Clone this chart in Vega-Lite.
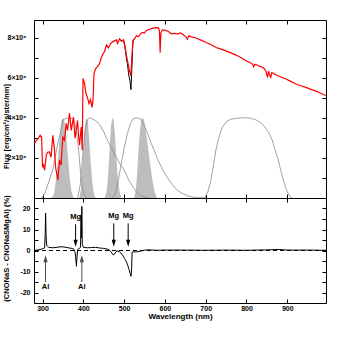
{
  "$schema": "https://vega.github.io/schema/vega-lite/v6.json",
  "padding": {"left": 1, "top": 19, "right": 5, "bottom": 5},
  "background": "white",
  "spacing": 0,
  "bounds": "flush",
  "config": {
    "view": {"stroke": "black", "strokeWidth": 1},
    "axis": {"domain": false, "grid": false, "tickColor": "black", "tickSize": -4, "tickWidth": 1,
      "labelFont": "Liberation Sans", "labelFontWeight": "bold", "labelFontSize": 7, "labelColor": "black",
      "titleFont": "Liberation Sans", "titleFontWeight": "bold", "titleFontSize": 7.5, "titleColor": "black"}
  },
  "datasets": {
    "spec": [
      {"wl":280,"flux":2730000,"s":"red"},{"wl":285,"flux":2880000,"s":"red"},{"wl":290,"flux":3000000,"s":"red"},{"wl":294,"flux":3130000,"s":"red"},{"wl":297.6,"flux":3030000,"s":"red"},{"wl":300,"flux":1540000,"s":"red"},{"wl":302.4,"flux":1640000,"s":"red"},{"wl":304.9,"flux":1390000,"s":"red"},{"wl":309,"flux":2130000,"s":"red"},{"wl":312.2,"flux":2280000,"s":"red"},{"wl":317.1,"flux":2300000,"s":"red"},{"wl":320.8,"flux":2030000,"s":"red"},{"wl":325.2,"flux":3130000,"s":"red"},{"wl":329.4,"flux":2380000,"s":"red"},{"wl":331.8,"flux":1550000,"s":"red"},{"wl":337.5,"flux":890000,"s":"red"},{"wl":341.6,"flux":1890000,"s":"red"},{"wl":345.3,"flux":1640000,"s":"red"},{"wl":349.7,"flux":3040000,"s":"red"},{"wl":353.9,"flux":2880000,"s":"red"},{"wl":358,"flux":3720000,"s":"red"},{"wl":361.2,"flux":3370000,"s":"red"},{"wl":366.1,"flux":4220000,"s":"red"},{"wl":370.3,"flux":3370000,"s":"red"},{"wl":373.5,"flux":3770000,"s":"red"},{"wl":375.9,"flux":4030000,"s":"red"},{"wl":379.6,"flux":2980000,"s":"red"},{"wl":382.5,"flux":3370000,"s":"red"},{"wl":385.7,"flux":3870000,"s":"red"},{"wl":388.2,"flux":3130000,"s":"red"},{"wl":390.6,"flux":2630000,"s":"red"},{"wl":394.8,"flux":3540000,"s":"red"},{"wl":397.3,"flux":2380000,"s":"red"},{"wl":399.2,"flux":5960000,"s":"red"},{"wl":402.9,"flux":5710000,"s":"red"},{"wl":406.5,"flux":5210000,"s":"red"},{"wl":410.2,"flux":5010000,"s":"red"},{"wl":413.9,"flux":4710000,"s":"red"},{"wl":417.6,"flux":4910000,"s":"red"},{"wl":421.2,"flux":4520000,"s":"red"},{"wl":423.7,"flux":4860000,"s":"red"},{"wl":426.1,"flux":6200000,"s":"red"},{"wl":429.8,"flux":6450000,"s":"red"},{"wl":434.7,"flux":6550000,"s":"red"},{"wl":439.6,"flux":6700000,"s":"red"},{"wl":443.3,"flux":6950000,"s":"red"},{"wl":446.9,"flux":7150000,"s":"red"},{"wl":451.8,"flux":7300000,"s":"red"},{"wl":456.7,"flux":7640000,"s":"red"},{"wl":461.6,"flux":7490000,"s":"red"},{"wl":466.5,"flux":7690000,"s":"red"},{"wl":471.4,"flux":7790000,"s":"red"},{"wl":476.3,"flux":7840000,"s":"red"},{"wl":481.2,"flux":7890000,"s":"red"},{"wl":483.7,"flux":7710000,"s":"red"},{"wl":488.6,"flux":7940000,"s":"red"},{"wl":493.5,"flux":7820000,"s":"red"},{"wl":498.4,"flux":7890000,"s":"red"},{"wl":502,"flux":7590000,"s":"red"},{"wl":505.7,"flux":7100000,"s":"red"},{"wl":510.6,"flux":6600000,"s":"red"},{"wl":514.3,"flux":6250000,"s":"red"},{"wl":516.7,"flux":6100000,"s":"red"},{"wl":519.2,"flux":7100000,"s":"red"},{"wl":521.6,"flux":7840000,"s":"red"},{"wl":525.3,"flux":7940000,"s":"red"},{"wl":530.2,"flux":8090000,"s":"red"},{"wl":535.1,"flux":8040000,"s":"red"},{"wl":540,"flux":8190000,"s":"red"},{"wl":544.9,"flux":8260000,"s":"red"},{"wl":549.8,"flux":8240000,"s":"red"},{"wl":554.7,"flux":8360000,"s":"red"},{"wl":562,"flux":8420000,"s":"red"},{"wl":569.4,"flux":8460000,"s":"red"},{"wl":576.7,"flux":8500000,"s":"red"},{"wl":584.1,"flux":8490000,"s":"red"},{"wl":586.5,"flux":8340000,"s":"red"},{"wl":588.3,"flux":7250000,"s":"red"},{"wl":590.2,"flux":8240000,"s":"red"},{"wl":593.9,"flux":8390000,"s":"red"},{"wl":601.2,"flux":8360000,"s":"red"},{"wl":608.6,"flux":8310000,"s":"red"},{"wl":615.9,"flux":8190000,"s":"red"},{"wl":623.3,"flux":8210000,"s":"red"},{"wl":630.6,"flux":8190000,"s":"red"},{"wl":638,"flux":8240000,"s":"red"},{"wl":645.3,"flux":8140000,"s":"red"},{"wl":651.9,"flux":8040000,"s":"red"},{"wl":655.1,"flux":7920000,"s":"red"},{"wl":658.8,"flux":8090000,"s":"red"},{"wl":664.9,"flux":8040000,"s":"red"},{"wl":676.4,"flux":7980000,"s":"red"},{"wl":686.9,"flux":7890000,"s":"red"},{"wl":700.9,"flux":7760000,"s":"red"},{"wl":711.4,"flux":7670000,"s":"red"},{"wl":725.4,"flux":7510000,"s":"red"},{"wl":735.9,"flux":7440000,"s":"red"},{"wl":749.9,"flux":7340000,"s":"red"},{"wl":760.4,"flux":7250000,"s":"red"},{"wl":774.4,"flux":7130000,"s":"red"},{"wl":784.9,"flux":7020000,"s":"red"},{"wl":798.9,"flux":6850000,"s":"red"},{"wl":807,"flux":6770000,"s":"red"},{"wl":815,"flux":6680000,"s":"red"},{"wl":817.5,"flux":6550000,"s":"red"},{"wl":820.4,"flux":6670000,"s":"red"},{"wl":824.1,"flux":6650000,"s":"red"},{"wl":831.5,"flux":6580000,"s":"red"},{"wl":839.5,"flux":6520000,"s":"red"},{"wl":843.7,"flux":6450000,"s":"red"},{"wl":847.8,"flux":6320000,"s":"red"},{"wl":849.7,"flux":6150000,"s":"red"},{"wl":851.7,"flux":6050000,"s":"red"},{"wl":854.2,"flux":6330000,"s":"red"},{"wl":856.6,"flux":6150000,"s":"red"},{"wl":859.6,"flux":6020000,"s":"red"},{"wl":862,"flux":6250000,"s":"red"},{"wl":864.5,"flux":6230000,"s":"red"},{"wl":868.2,"flux":6180000,"s":"red"},{"wl":872.3,"flux":6150000,"s":"red"},{"wl":882.9,"flux":6050000,"s":"red"},{"wl":896.8,"flux":5940000,"s":"red"},{"wl":907.4,"flux":5830000,"s":"red"},{"wl":921.3,"flux":5690000,"s":"red"},{"wl":931.8,"flux":5610000,"s":"red"},{"wl":945.8,"flux":5520000,"s":"red"},{"wl":956.3,"flux":5430000,"s":"red"},{"wl":970.3,"flux":5330000,"s":"red"},{"wl":980.8,"flux":5240000,"s":"red"},{"wl":994.8,"flux":5110000,"s":"red"},
      {"wl":488.6,"flux":7940000,"s":"black"},{"wl":493.5,"flux":7820000,"s":"black"},{"wl":498.4,"flux":7890000,"s":"black"},{"wl":502,"flux":7550000,"s":"black"},{"wl":505.7,"flux":6950000,"s":"black"},{"wl":508,"flux":6700000,"s":"black"},{"wl":510.6,"flux":6250000,"s":"black"},{"wl":513,"flux":5950000,"s":"black"},{"wl":514.3,"flux":5860000,"s":"black"},{"wl":516.7,"flux":5410000,"s":"black"},{"wl":519.2,"flux":6600000,"s":"black"},{"wl":521.6,"flux":7840000,"s":"black"},{"wl":525.3,"flux":7940000,"s":"black"}
    ],
    "fills": [
      {"wl":322,"t":0,"band":"F1"},{"wl":328,"t":200000,"band":"F1"},{"wl":333,"t":900000,"band":"F1"},{"wl":338,"t":2000000,"band":"F1"},{"wl":342,"t":3100000,"band":"F1"},{"wl":346,"t":3800000,"band":"F1"},{"wl":350,"t":4000000,"band":"F1"},{"wl":354,"t":3800000,"band":"F1"},{"wl":358,"t":3100000,"band":"F1"},{"wl":362,"t":2100000,"band":"F1"},{"wl":366,"t":1100000,"band":"F1"},{"wl":370,"t":400000,"band":"F1"},{"wl":375,"t":50000,"band":"F1"},{"wl":378,"t":0,"band":"F1"},
      {"wl":390,"t":0,"band":"F2"},{"wl":394,"t":400000,"band":"F2"},{"wl":398,"t":1600000,"band":"F2"},{"wl":402,"t":3000000,"band":"F2"},{"wl":405,"t":3800000,"band":"F2"},{"wl":408,"t":4000000,"band":"F2"},{"wl":411,"t":3800000,"band":"F2"},{"wl":414,"t":3000000,"band":"F2"},{"wl":418,"t":1800000,"band":"F2"},{"wl":422,"t":800000,"band":"F2"},{"wl":426,"t":200000,"band":"F2"},{"wl":430,"t":0,"band":"F2"},
      {"wl":452,"t":0,"band":"F3"},{"wl":457,"t":300000,"band":"F3"},{"wl":461,"t":1200000,"band":"F3"},{"wl":465,"t":2700000,"band":"F3"},{"wl":468,"t":3600000,"band":"F3"},{"wl":471,"t":4000000,"band":"F3"},{"wl":474,"t":3900000,"band":"F3"},{"wl":477,"t":3300000,"band":"F3"},{"wl":481,"t":2000000,"band":"F3"},{"wl":485,"t":900000,"band":"F3"},{"wl":489,"t":300000,"band":"F3"},{"wl":493,"t":0,"band":"F3"},
      {"wl":524,"t":0,"band":"F4"},{"wl":528,"t":300000,"band":"F4"},{"wl":532,"t":1200000,"band":"F4"},{"wl":536,"t":2600000,"band":"F4"},{"wl":540,"t":3600000,"band":"F4"},{"wl":543,"t":3950000,"band":"F4"},{"wl":546,"t":4000000,"band":"F4"},{"wl":549,"t":3850000,"band":"F4"},{"wl":552,"t":3500000,"band":"F4"},{"wl":556,"t":2900000,"band":"F4"},{"wl":560,"t":2300000,"band":"F4"},{"wl":565,"t":1500000,"band":"F4"},{"wl":570,"t":800000,"band":"F4"},{"wl":575,"t":300000,"band":"F4"},{"wl":580,"t":0,"band":"F4"}
    ],
    "outlines": [
      {"wl":298,"t":0,"band":"A"},{"wl":305,"t":200000,"band":"A"},{"wl":315,"t":800000,"band":"A"},{"wl":325,"t":1400000,"band":"A"},{"wl":335,"t":2500000,"band":"A"},{"wl":342,"t":3100000,"band":"A"},{"wl":350,"t":3900000,"band":"A"},{"wl":360,"t":4000000,"band":"A"},{"wl":375,"t":3950000,"band":"A"},{"wl":382,"t":3500000,"band":"A"},{"wl":388,"t":2500000,"band":"A"},{"wl":393,"t":1300000,"band":"A"},{"wl":398,"t":500000,"band":"A"},{"wl":403,"t":100000,"band":"A"},{"wl":408,"t":0,"band":"A"},
      {"wl":386,"t":0,"band":"B"},{"wl":392,"t":600000,"band":"B"},{"wl":398,"t":2000000,"band":"B"},{"wl":404,"t":3300000,"band":"B"},{"wl":410,"t":3900000,"band":"B"},{"wl":415,"t":4000000,"band":"B"},{"wl":422,"t":3950000,"band":"B"},{"wl":430,"t":3850000,"band":"B"},{"wl":440,"t":3650000,"band":"B"},{"wl":450,"t":3300000,"band":"B"},{"wl":460,"t":2850000,"band":"B"},{"wl":470,"t":2450000,"band":"B"},{"wl":480,"t":2050000,"band":"B"},{"wl":490,"t":1700000,"band":"B"},{"wl":500,"t":1400000,"band":"B"},{"wl":505,"t":1200000,"band":"B"},{"wl":510,"t":950000,"band":"B"},{"wl":520,"t":600000,"band":"B"},{"wl":530,"t":300000,"band":"B"},{"wl":540,"t":130000,"band":"B"},{"wl":550,"t":40000,"band":"B"},{"wl":560,"t":0,"band":"B"},
      {"wl":470,"t":0,"band":"C"},{"wl":478,"t":200000,"band":"C"},{"wl":485,"t":800000,"band":"C"},{"wl":492,"t":1600000,"band":"C"},{"wl":500,"t":2500000,"band":"C"},{"wl":508,"t":3200000,"band":"C"},{"wl":515,"t":3700000,"band":"C"},{"wl":522,"t":3950000,"band":"C"},{"wl":530,"t":4000000,"band":"C"},{"wl":540,"t":3950000,"band":"C"},{"wl":548,"t":3700000,"band":"C"},{"wl":556,"t":3300000,"band":"C"},{"wl":565,"t":2800000,"band":"C"},{"wl":575,"t":2300000,"band":"C"},{"wl":585,"t":1800000,"band":"C"},{"wl":595,"t":1400000,"band":"C"},{"wl":605,"t":1050000,"band":"C"},{"wl":615,"t":750000,"band":"C"},{"wl":625,"t":500000,"band":"C"},{"wl":635,"t":320000,"band":"C"},{"wl":645,"t":200000,"band":"C"},{"wl":655,"t":120000,"band":"C"},{"wl":665,"t":60000,"band":"C"},{"wl":680,"t":20000,"band":"C"},{"wl":700,"t":0,"band":"C"},
      {"wl":698,"t":0,"band":"D"},{"wl":705,"t":300000,"band":"D"},{"wl":712,"t":800000,"band":"D"},{"wl":718,"t":1500000,"band":"D"},{"wl":725,"t":2400000,"band":"D"},{"wl":732,"t":3000000,"band":"D"},{"wl":740,"t":3500000,"band":"D"},{"wl":750,"t":3800000,"band":"D"},{"wl":762,"t":3930000,"band":"D"},{"wl":775,"t":3980000,"band":"D"},{"wl":790,"t":4000000,"band":"D"},{"wl":800,"t":4000000,"band":"D"},{"wl":812,"t":3970000,"band":"D"},{"wl":825,"t":3880000,"band":"D"},{"wl":835,"t":3750000,"band":"D"},{"wl":845,"t":3550000,"band":"D"},{"wl":855,"t":3250000,"band":"D"},{"wl":863,"t":2900000,"band":"D"},{"wl":870,"t":2400000,"band":"D"},{"wl":878,"t":1900000,"band":"D"},{"wl":885,"t":1300000,"band":"D"},{"wl":892,"t":800000,"band":"D"},{"wl":898,"t":400000,"band":"D"},{"wl":905,"t":120000,"band":"D"},{"wl":912,"t":0,"band":"D"}
    ],
    "resid": [
      {"wl":280,"d":0},{"wl":290,"d":0.3},{"wl":300,"d":0.8},{"wl":305,"d":1.2},{"wl":306.5,"d":8},{"wl":307.5,"d":17.8},{"wl":308.5,"d":8},{"wl":310,"d":2.5},{"wl":315,"d":1.5},{"wl":325,"d":1.3},{"wl":335,"d":1.5},{"wl":345,"d":1.8},{"wl":355,"d":1.6},{"wl":365,"d":1.2},{"wl":372,"d":1.0},{"wl":377,"d":0.5},{"wl":380,"d":-1},{"wl":382,"d":-5},{"wl":383,"d":-7.5},{"wl":384.5,"d":-3},{"wl":386,"d":0.5},{"wl":390,"d":1},{"wl":393,"d":1.5},{"wl":394.4,"d":17},{"wl":395.3,"d":6},{"wl":396.2,"d":21},{"wl":397.5,"d":3},{"wl":400,"d":1.5},{"wl":410,"d":1.3},{"wl":420,"d":1.4},{"wl":430,"d":1.5},{"wl":440,"d":1.2},{"wl":450,"d":1.0},{"wl":460,"d":0.6},{"wl":465,"d":0},{"wl":470,"d":-1.2},{"wl":474,"d":-2.2},{"wl":478,"d":-1.2},{"wl":482,"d":-0.2},{"wl":488,"d":-0.5},{"wl":495,"d":-1.8},{"wl":501,"d":-3.8},{"wl":506,"d":-5.5},{"wl":509,"d":-7.2},{"wl":512,"d":-9},{"wl":515,"d":-11},{"wl":517,"d":-12.3},{"wl":518.5,"d":-8},{"wl":519.5,"d":-0.8},{"wl":522,"d":-0.6},{"wl":530,"d":-0.7},{"wl":540,"d":-0.3},{"wl":550,"d":0.2},{"wl":560,"d":0.3},{"wl":580,"d":0.1},{"wl":600,"d":0.2},{"wl":650,"d":0.2},{"wl":700,"d":0.1},{"wl":750,"d":0.2},{"wl":800,"d":0.1},{"wl":850,"d":0.3},{"wl":880,"d":0.5},{"wl":900,"d":0.2},{"wl":950,"d":0.2},{"wl":995,"d":0.1}
    ],
    "arrows": [
      {"wl":307.3,"from":-15,"head":-3.9,"lab":"Al","ly":-17.5,"dir":"up"},
      {"wl":396.3,"from":-15,"head":-3.9,"lab":"Al","ly":-17.5,"dir":"up"},
      {"wl":381,"from":12.5,"head":3.4,"lab":"Mg","ly":16,"dir":"down"},
      {"wl":474.6,"from":12.9,"head":3.4,"lab":"Mg","ly":16.5,"dir":"down"},
      {"wl":509.9,"from":12.9,"head":3.4,"lab":"Mg","ly":16.5,"dir":"down"}
    ]
  },
  "vconcat": [
    {
      "width": 292,
      "height": 178,
      "resolve": {"axis": {"x": "independent", "y": "independent"}},
      "layer": [
        {
          "data": {"name": "fills"},
          "mark": {"type": "area", "color": "#bdbdbd", "clip": true},
          "encoding": {
            "x": {"field": "wl", "type": "quantitative", "scale": {"domain": [279, 995], "nice": false, "zero": false},
              "axis": {"orient": "bottom", "values": [300,400,500,600,700,800,900], "labels": false, "title": null}},
            "y": {"field": "t", "type": "quantitative", "stack": null, "scale": {"domain": [0, 8880000], "nice": false},
              "axis": {"orient": "left", "values": [1000000,2000000,3000000,4000000,5000000,6000000,7000000,8000000],
                "labelExpr": "datum.value % 2000000 == 0 ? (datum.value/1000000) + '×10⁶' : ''",
                "labelPadding": 12, "title": "Flux [erg/cm²/s/ster/nm]", "titleX": -24, "titleY": 106}},
            "detail": {"field": "band"}
          }
        },
        {
          "data": {"name": "outlines"},
          "mark": {"type": "line", "color": "#8c8c8c", "strokeWidth": 0.8, "clip": true},
          "encoding": {
            "x": {"field": "wl", "type": "quantitative",
              "axis": {"orient": "top", "values": [300,400,500,600,700,800,900], "labels": false, "title": null}},
            "y": {"field": "t", "type": "quantitative",
              "axis": {"orient": "right", "values": [1000000,2000000,3000000,4000000,5000000,6000000,7000000,8000000], "labels": false, "title": null}},
            "detail": {"field": "band"}
          }
        },
        {
          "data": {"name": "spec"},
          "transform": [{"filter": "datum.s == 'black'"}],
          "mark": {"type": "line", "color": "black", "strokeWidth": 1, "clip": true},
          "encoding": {
            "x": {"field": "wl", "type": "quantitative", "axis": null},
            "y": {"field": "flux", "type": "quantitative", "axis": null}
          }
        },
        {
          "data": {"name": "spec"},
          "transform": [{"filter": "datum.s == 'red'"}],
          "mark": {"type": "line", "color": "#ff0000", "strokeWidth": 1.2, "clip": true},
          "encoding": {
            "x": {"field": "wl", "type": "quantitative", "axis": null},
            "y": {"field": "flux", "type": "quantitative", "axis": null}
          }
        }
      ]
    },
    {
      "width": 292,
      "height": 105,
      "resolve": {"axis": {"x": "independent", "y": "independent"}},
      "layer": [
        {
          "data": {"name": "resid"},
          "mark": {"type": "rule", "color": "black", "strokeDash": [4, 3], "strokeWidth": 0.8},
          "encoding": {
            "y": {"datum": 0, "type": "quantitative", "scale": {"domain": [-25, 25], "nice": false},
              "axis": {"orient": "left", "values": [-20,-15,-10,-5,0,5,10,15,20],
                "labelExpr": "datum.value % 10 == 0 ? '' + datum.value : ''",
                "labelPadding": 8, "title": "(CNONaS - CNONaSMgAl) (%)", "titleX": -24, "titleY": 50}}
          }
        },
        {
          "data": {"name": "resid"},
          "mark": {"type": "line", "color": "black", "strokeWidth": 1, "clip": true},
          "encoding": {
            "x": {"field": "wl", "type": "quantitative", "scale": {"domain": [279, 995], "nice": false, "zero": false},
              "axis": {"orient": "bottom", "values": [300,400,500,600,700,800,900], "labelPadding": 5,
                "labelFontSize": 7, "title": "Wavelength (nm)", "titleFontSize": 8, "titlePadding": 1}},
            "y": {"field": "d", "type": "quantitative",
              "axis": {"orient": "right", "values": [-20,-15,-10,-5,0,5,10,15,20], "labels": false, "title": null}}
          }
        },
        {
          "data": {"name": "arrows"},
          "mark": {"type": "rule", "strokeWidth": 1},
          "encoding": {
            "x": {"field": "wl", "type": "quantitative",
              "axis": {"orient": "top", "values": [300,400,500,600,700,800,900], "labels": false, "title": null}},
            "y": {"field": "from", "type": "quantitative", "axis": null},
            "y2": {"field": "head"},
            "color": {"field": "lab", "type": "nominal", "scale": {"domain": ["Al", "Mg"], "range": ["#4d4d4d", "black"]}, "legend": null}
          }
        },
        {
          "data": {"name": "arrows"},
          "mark": {"type": "point", "filled": true, "opacity": 1, "size": 49, "strokeWidth": 0},
          "encoding": {
            "x": {"field": "wl", "type": "quantitative", "axis": null},
            "y": {"field": "head", "type": "quantitative", "axis": null},
            "shape": {"field": "dir", "type": "nominal", "scale": {"domain": ["up", "down"], "range": ["M-0.6,1L0.6,1L0,-1Z", "M-0.6,-1L0.6,-1L0,1Z"]}, "legend": null},
            "color": {"field": "lab", "type": "nominal", "scale": {"domain": ["Al", "Mg"], "range": ["#4d4d4d", "black"]}, "legend": null}
          }
        },
        {
          "data": {"name": "arrows"},
          "mark": {"type": "text", "font": "Liberation Sans", "fontWeight": "bold", "fontSize": 7.5, "color": "black", "baseline": "middle"},
          "encoding": {
            "x": {"field": "wl", "type": "quantitative", "axis": null},
            "y": {"field": "ly", "type": "quantitative", "axis": null},
            "text": {"field": "lab"}
          }
        }
      ]
    }
  ]
}
